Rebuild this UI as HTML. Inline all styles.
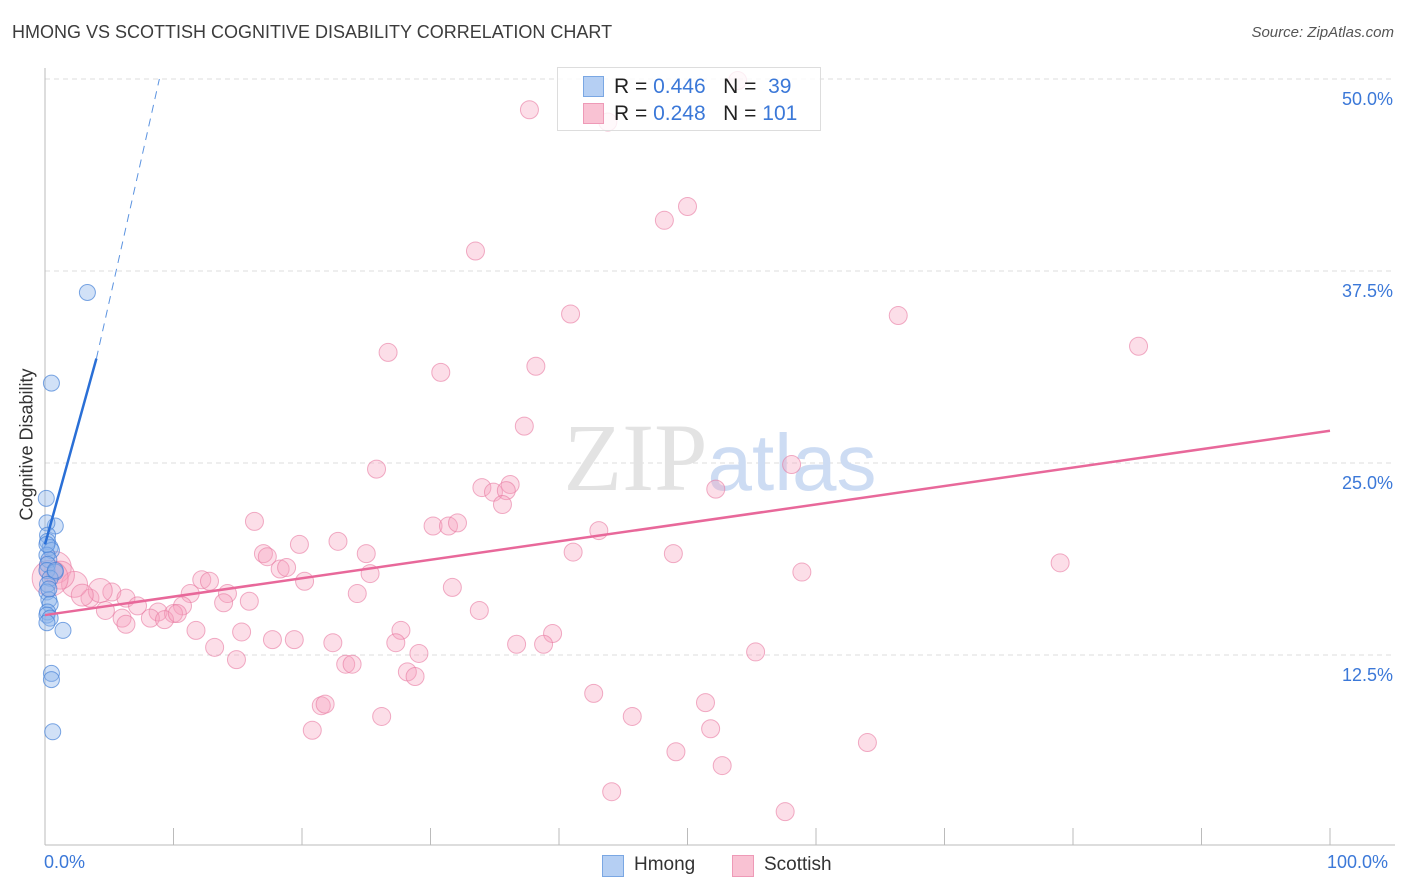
<!DOCTYPE html>
<html><head><meta charset="utf-8"><style>
body{margin:0;background:#fff;font-family:"Liberation Sans",sans-serif;}
#wrap{position:relative;width:1406px;height:892px;overflow:hidden;}
.t{position:absolute;white-space:nowrap;}
</style></head><body>
<div id="wrap">
<div class="t" style="left:12px;top:22px;font-size:18px;color:#3c3c3c;">HMONG VS SCOTTISH COGNITIVE DISABILITY CORRELATION CHART</div>
<div class="t" style="right:12px;top:24px;font-size:15px;color:#555;font-style:italic;">Source: ZipAtlas.com</div>
<div class="t" style="left:-38px;top:445px;font-size:18px;color:#333;transform:rotate(-90deg);transform-origin:center;width:130px;text-align:center;">Cognitive Disability</div>
<svg id="chart" width="1406" height="892" style="position:absolute;left:0;top:0;"></svg>
</div>
<script>
const yTicks=[12.5,25,37.5,50];
const yTickLabels=["12.5%","25.0%","37.5%","50.0%"];
const xTicks=[0,10,20,30,40,50,60,70,80,90,100];
const hmongX=[3.3,0.5,0.1,0.8,0.15,0.2,0.2,0.4,0.5,0.15,0.3,0.2,0.15,0.8,0.4,0.2,0.15,0.3,0.4,0.2,0.15,0.4,0.15,1.4,0.5,0.5,0.6,0.8,0.15,0.3];
const hmongY=[36.1,30.2,22.7,20.9,21.1,20.3,19.9,19.5,19.3,19.0,18.7,18.4,18.0,17.9,17.5,17.1,16.6,16.1,15.8,15.3,15.1,14.9,14.6,14.1,11.3,10.9,7.5,18.0,19.7,16.8];
const scotX=[37.7,43.8,53.9,48.2,50.0,33.5,40.9,66.4,85.1,26.7,38.2,30.8,37.3,25.8,58.1,34.0,36.2,34.9,35.9,52.2,35.6,16.3,30.2,31.4,32.1,43.1,22.8,19.8,17.0,17.3,25.0,41.1,48.9,79.0,18.3,18.8,25.3,58.9,12.2,12.8,20.2,31.7,11.3,14.2,5.2,24.3,3.5,6.3,15.9,13.9,10.7,7.2,4.7,8.8,10.0,6.0,8.2,9.3,10.3,33.8,6.3,11.75,15.3,27.7,39.5,17.7,19.4,22.4,27.3,36.7,38.8,13.2,29.1,55.3,14.9,23.4,23.9,28.2,28.8,42.7,51.4,21.5,21.8,26.2,45.7,20.8,51.8,64.0,49.1,52.7,44.1,57.6,0.8,2.3,4.3,1.2,2.9,0.4];
const scotY=[48.0,47.2,49.9,40.8,41.7,38.8,34.7,34.6,32.6,32.2,31.3,30.9,27.4,24.6,24.9,23.4,23.6,23.1,23.2,23.3,22.3,21.2,20.9,20.9,21.1,20.6,19.9,19.7,19.1,18.9,19.1,19.2,19.1,18.5,18.1,18.2,17.8,17.9,17.4,17.3,17.3,16.9,16.5,16.5,16.6,16.5,16.2,16.2,16.0,15.9,15.7,15.7,15.4,15.3,15.2,14.9,14.9,14.8,15.2,15.4,14.5,14.1,14.0,14.1,13.9,13.5,13.5,13.3,13.3,13.2,13.2,13.0,12.6,12.7,12.2,11.9,11.9,11.4,11.1,10.0,9.4,9.2,9.3,8.5,8.5,7.6,7.7,6.8,6.2,5.3,3.6,2.3,18.2,17.1,16.7,17.7,16.4,17.5];
const scotR=[9,9,9,9,9,9,9,9,9,9,9,9,9,9,9,9,9,9,9,9,9,9,9,9,9,9,9,9,9,9,9,9,9,9,9,9,9,9,9,9,9,9,9,9,9,9,9,9,9,9,9,9,9,9,9,9,9,9,9,9,9,9,9,9,9,9,9,9,9,9,9,9,9,9,9,9,9,9,9,9,9,9,9,9,9,9,9,9,9,9,9,9,16,13,12,14,11,18];
const hmongLine=[[0,19.7],[4.0,31.8],[8.9,50]];
const scotLine=[[0,15.1],[100,27.1]];
const X=v=>45+v*12.85, Y=v=>847-v*15.36;
const svg=document.getElementById('chart');const NS='http://www.w3.org/2000/svg';
function mk(tag,attrs,parent){const e=document.createElementNS(NS,tag);for(const k in attrs)e.setAttribute(k,attrs[k]);(parent||svg).appendChild(e);return e;}
yTicks.forEach((v,i)=>{
 const g=mk('line',{x1:45,x2:1395,y1:Y(v),y2:Y(v),stroke:'#ddd','stroke-dasharray':'5,4'});
 
 
 const t=mk('text',{x:1393,y:Y(v)+26,'text-anchor':'end','font-size':18,fill:'#3b78d8','font-family':'Liberation Sans'});t.textContent=yTickLabels[i];
 
 
});
const ax=mk('line',{x1:45,x2:1395,y1:845,y2:845,stroke:'#bbb'});


const ay=mk('line',{x1:45,x2:45,y1:68,y2:845,stroke:'#bbb'});


xTicks.forEach(v=>{const l=mk('line',{x1:X(v),x2:X(v),y1:828,y2:845,stroke:'#bbb'});
 
 });
const wm=mk('text',{x:720,y:490,'text-anchor':'middle','font-size':96,'font-family':'Liberation Serif',fill:'#e3e3e3'});wm.innerHTML='ZIP<tspan fill="#cddcf3" font-family="Liberation Sans" font-size="80">atlas</tspan>';


scotX.forEach((v,i)=>{const c=mk('circle',{cx:X(v),cy:Y(scotY[i]),r:scotR[i],fill:'rgba(247,160,190,0.35)',stroke:'rgba(232,120,160,0.6)','stroke-width':1});
 
 });
hmongX.forEach((v,i)=>{const c=mk('circle',{cx:X(v),cy:Y(hmongY[i]),r:8,fill:'rgba(140,180,235,0.4)',stroke:'rgba(70,130,215,0.7)','stroke-width':1});
 
 });
const hl=mk('line',{x1:X(hmongLine[0][0]),y1:Y(hmongLine[0][1]),x2:X(hmongLine[1][0]),y2:Y(hmongLine[1][1]),stroke:'#2a6fd6','stroke-width':2.5});


const hd=mk('line',{x1:X(hmongLine[1][0]),y1:Y(hmongLine[1][1]),x2:X(hmongLine[2][0]),y2:Y(hmongLine[2][1]),stroke:'#5b93e0','stroke-width':1,'stroke-dasharray':'8,6'});


const sl=mk('line',{x1:X(scotLine[0][0]),y1:Y(scotLine[0][1]),x2:X(scotLine[1][0]),y2:Y(scotLine[1][1]),stroke:'#e8689a','stroke-width':2.5});


</script>
<div class="t" style="left:44px;top:852px;font-size:18px;color:#3b78d8;">0.0%</div>
<div class="t" style="left:1327px;top:852px;font-size:18px;color:#3b78d8;">100.0%</div>
<div style="position:absolute;left:557px;top:67px;width:262px;height:62px;border:1px solid #ddd;background:rgba(255,255,255,0.8);font-size:21px;color:#222;">
 <div style="position:absolute;left:25px;top:8px;width:19px;height:19px;background:#b5cff3;border:1px solid #7aa7e3;"></div>
 <div class="t" style="left:56px;top:7px;">R = <span style="color:#3b78d8">0.446</span>&nbsp;&nbsp;&nbsp;N = &nbsp;<span style="color:#3b78d8">39</span></div>
 <div style="position:absolute;left:25px;top:35px;width:19px;height:19px;background:#f9c2d3;border:1px solid #ee9ab7;"></div>
 <div class="t" style="left:56px;top:34px;">R = <span style="color:#3b78d8">0.248</span>&nbsp;&nbsp;&nbsp;N = <span style="color:#3b78d8">101</span></div>
</div>
<div style="position:absolute;left:602px;top:854px;font-size:19px;color:#333;">
 <div style="position:absolute;left:0;top:1px;width:20px;height:20px;background:#b5cff3;border:1px solid #7aa7e3;"></div>
 <div class="t" style="left:32px;top:0;">Hmong</div>
 <div style="position:absolute;left:130px;top:1px;width:20px;height:20px;background:#f9c2d3;border:1px solid #ee9ab7;"></div>
 <div class="t" style="left:162px;top:0;">Scottish</div>
</div>
</body></html>
